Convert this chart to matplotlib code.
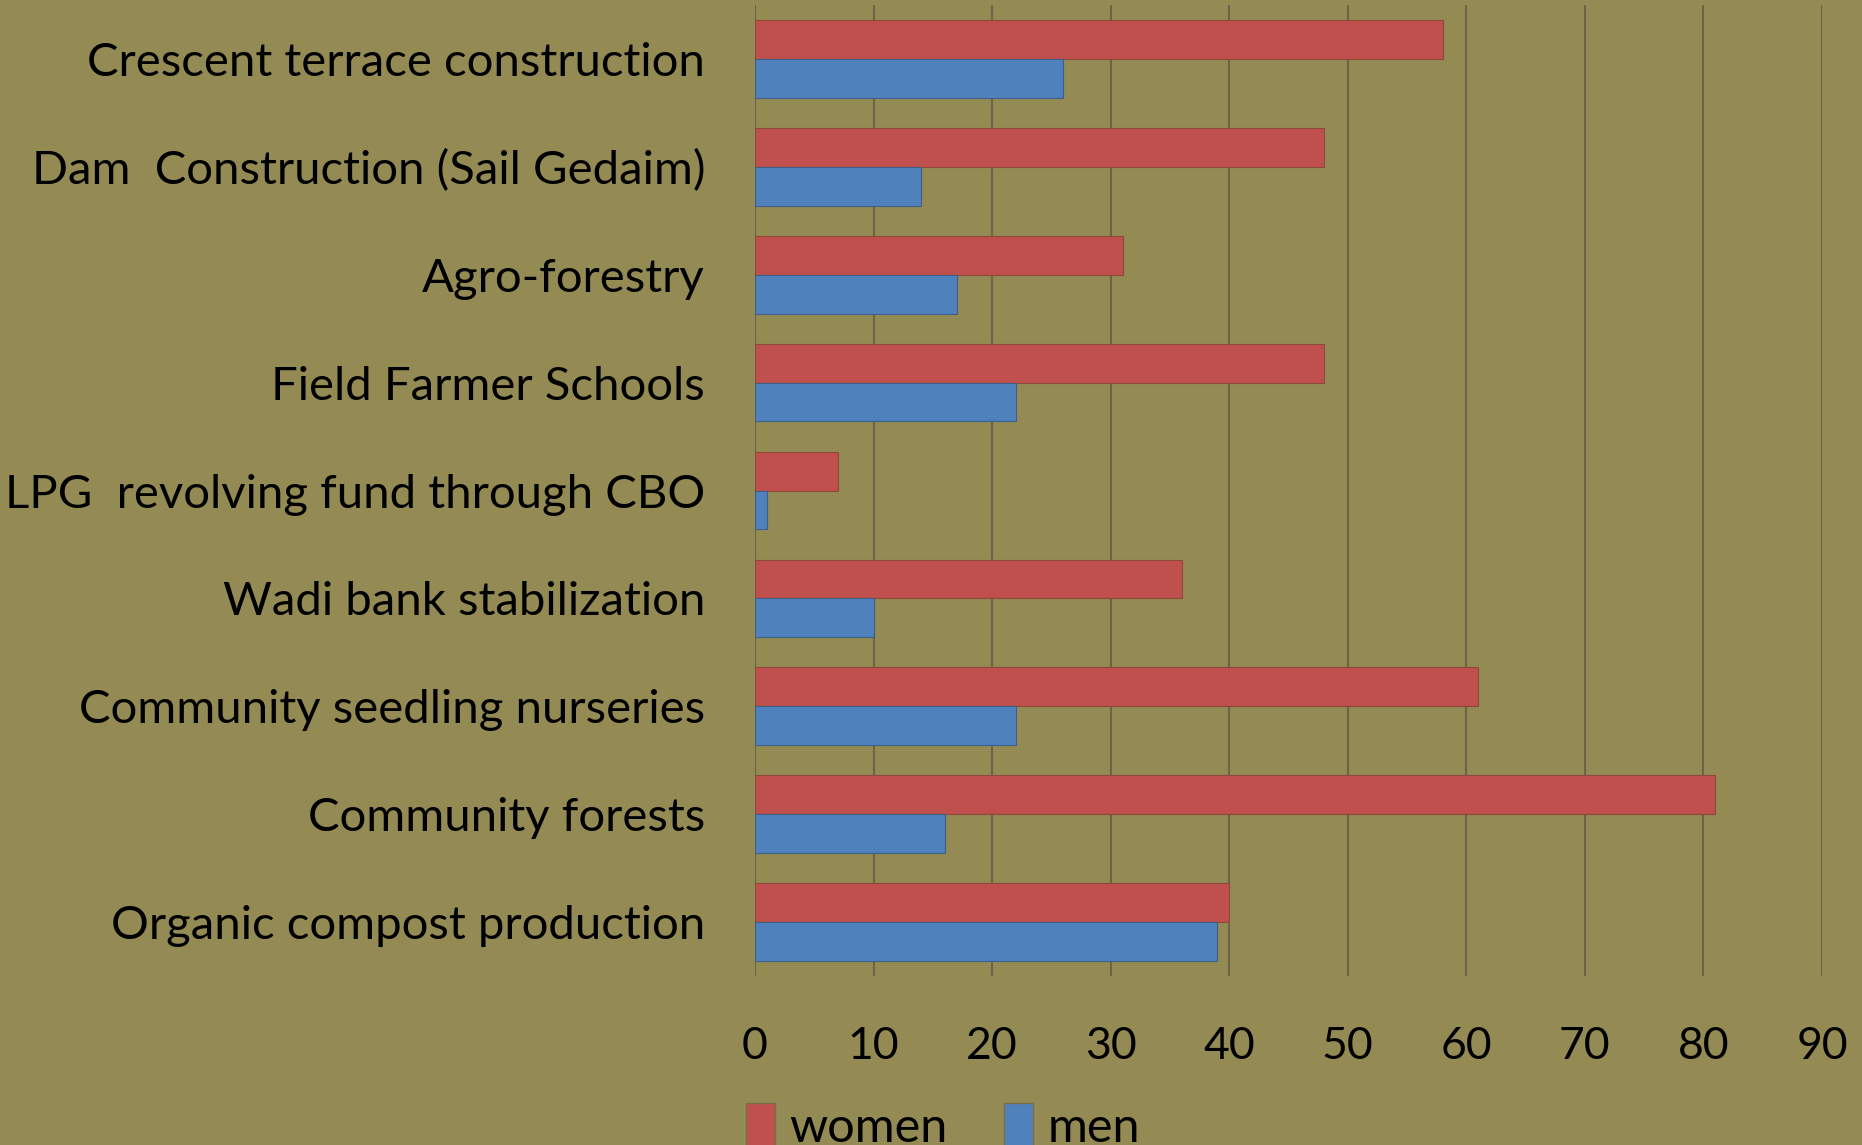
import numpy as np
from matplotlib import pyplot as plt
from matplotlib.patches import Patch

categories = [
    "Crescent terrace construction",
    "Dam  Construction (Sail Gedaim)",
    "Agro-forestry",
    "Field Farmer Schools",
    "LPG  revolving fund through CBO",
    "Wadi bank stabilization",
    "Community seedling nurseries",
    "Community forests",
    "Organic compost production",
]
women = [58, 48, 31, 48, 7, 36, 61, 81, 40]
men = [26, 14, 17, 22, 1, 10, 22, 16, 39]
xticks = [0, 10, 20, 30, 40, 50, 60, 70, 80, 90]

bg = "#948a54"
red = "#c0504d"
blue = "#4f81bd"

plt.rcParams["font.family"] = ["Lato", "DejaVu Sans"]

fig = plt.figure(figsize=(18.62, 11.45), dpi=100, facecolor=bg)
ax = fig.add_axes([0.4055, 0.1476, 0.573, 0.848])
ax.set_facecolor(bg)

y = np.arange(len(categories))
h = 0.36
ax.barh(y - h / 2, women, height=h, color=red, edgecolor="#8c4a3a", linewidth=0.8, label="women", zorder=3)
ax.barh(y + h / 2, men, height=h, color=blue, edgecolor="#3d5f88", linewidth=0.8, label="men", zorder=3)

ax.set_ylim(len(categories) - 0.5, -0.5)
ax.set_xlim(0, 90)
ax.set_xticks(xticks)
ax.set_yticks(y)
ax.set_yticklabels(categories, fontsize=34)
ax.tick_params(axis="y", length=0, pad=36)
ax.tick_params(axis="x", length=0, pad=36, labelsize=32)
ax.grid(axis="x", color="#6b6448", linewidth=1.5, zorder=0)
for s in ax.spines.values():
    s.set_visible(False)

handles = [Patch(facecolor=red, edgecolor="#7a6e4a"), Patch(facecolor=blue, edgecolor="#7a6e4a")]
fig.legend(handles, ["women", "men"], loc="center left", bbox_to_anchor=(0.377, 0.016),
           frameon=False, fontsize=35, handlelength=0.6, handleheight=1.0,
           handletextpad=0.3, columnspacing=1.15, ncol=2)

fig.savefig("out.png", dpi=100, facecolor=bg)
